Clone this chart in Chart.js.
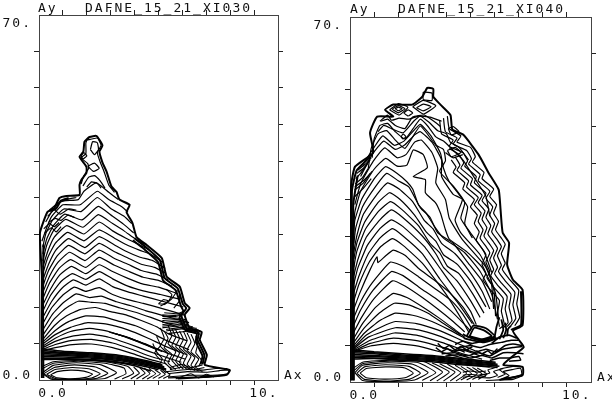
<!DOCTYPE html>
<html>
<head>
<meta charset="utf-8">
<style>
body{margin:0;background:#fff;}
.panel{position:absolute;top:0;width:306px;height:403px;}
</style>
<script src="https://cdn.jsdelivr.net/npm/chart.js@4/dist/chart.umd.min.js"></script>
</head>
<body>
<div class="panel" style="left:0"><canvas id="left-chart" width="306" height="403"></canvas></div>
<div class="panel" style="left:306px"><canvas id="right-chart" width="306" height="403"></canvas></div>
<script>
'use strict';
// axis ranges and labels, both panels share them
const xRange = [-1.25, 11.25];
const yRange = [0, 70];
const xStep = 1.25;
const yStep = 7;
const titles = ['DAFNE_15_21_XI030', 'DAFNE_15_21_XI040'];
const xAxisName = 'Ax';
const yAxisName = 'Ay';

// every contour is a flat x,y,x,y list read off the picture
// left panel, XI030
const leftArches = [
[-1.05,5.6,-.4,6.2,.5,6.8,1.5,6.9,2.6,6.2,3.6,5.1,4.6,3.9,5.4,3.1],
[-1.05,5.9,-.4,6.8,.5,7.6,1.5,7.8,2.6,7.1,3.6,5.9,4.6,4.5,5.6,3.5],
[-1.05,6.2,-.4,7.4,.5,8.4,1.4,8.8,2.4,8.2,3.4,7,4.5,5.5,5.6,4.1,6.2,3.4],
[-1.05,6.5,-.4,8,.4,9.3,1.4,9.9,2.4,9.3,3.3,8.2,4.4,6.8,5.5,5.1,6.4,4],
[-1.05,6.9,-.4,8.7,.4,10.1,1.3,11,2.3,10.7,3.4,9.6,4.4,8.1,5.4,6.4,6.5,4.8],
[-1.05,7.3,-.4,9.5,.3,11.2,1.2,12.3,2.1,12.1,3,11.2,3.8,10.4,4.6,9.1,5.4,7.6,6.6,5.8],
[-1.05,7.8,-.45,10.4,.2,12.3,.9,13.5,1.7,13.9,2.5,13.1,3.3,12.5,4.1,11.4,4.9,10.2,5.5,8.9,6.5,7.5],
[-1.05,8.6,-.5,11.5,.1,13.6,.8,15.1,1.5,14.9,2.2,14.7,3,13.8,3.8,13,4.6,12,5.5,10.8,6.5,9.6],
[-1.05,9.6,-.55,12.6,.05,14.9,.7,16.5,1.4,15.8,2,16.1,2.8,15,3.6,14.2,4.4,13.2,5.4,12.2,6.6,11],
[-1.05,10.8,-.6,13.8,0,16.3,.6,17.8,1.2,17,1.9,17.7,2.6,16.4,3.4,15.4,4.2,14.7,5.2,13.7,6.4,12.4],
[-1.05,12,-.6,15,-.05,17.6,.55,19.2,1.2,18.2,1.9,19.4,2.6,17.9,3.4,16.9,4.2,16.1,5.2,15.1,6.3,14],
[-1.05,13.2,-.65,16.2,-.1,18.9,.5,20.4,1.2,19.3,1.9,20.8,2.6,19.4,3.4,18,4.2,17.1,5.1,16.4,6.1,15.5],
[-1.05,14.4,-.65,17.4,-.15,20.2,.45,21.8,1.2,20.4,1.9,22.1,2.6,20.8,3.4,19.5,4.2,18.4,5,17.8,5.9,16.7],
[-1.05,15.6,-.7,18.6,-.2,21.4,.4,23.1,1.2,21.6,1.9,23.5,2.7,22,3.4,20.9,4.2,19.7,5,19.1,5.7,18],
[-1.05,16.8,-.7,19.9,-.25,22.6,.35,24.5,1.15,22.9,1.9,24.9,2.7,23.3,3.4,22.2,4.1,21,4.9,20.3,5.5,19.2],
[-1.05,18,-.75,21,-.3,23.8,.3,25.8,1.15,24.2,1.9,26.2,2.7,24.6,3.4,23.4,4.1,22.2,4.8,21.6,5.4,20.4],
[-1.05,19.2,-.75,22.2,-.35,25,.3,27.1,1.15,25.4,1.9,27.5,2.7,25.9,3.3,24.7,4,23.6,4.7,22.9,5.35,21.4],
[-1.05,20.4,-.8,23.4,-.4,26.2,.25,28.3,1.1,26.7,1.9,28.8,2.7,27.2,3.3,26,4,24.9,4.6,24.1,5.2,22.6],
[-1.05,21.6,-.8,24.6,-.45,27.4,.2,29.6,1.1,28,1.9,30.3,2.6,28.6,3.3,27.2,3.9,26.1,4.5,25],
[-1.05,22.8,-.85,25.8,-.5,28.6,.15,30.8,1.05,29.3,1.85,31.7,2.6,30,3.2,28.6,3.8,27,4.35,25.9],
[-1.05,24.2,-.85,27,-.5,29.6,.1,31.8,1,30.7,1.85,33.3,2.6,31.4,3.2,29.8,3.7,28.2],
[-1.05,25.5,-.9,28,-.55,30.6,.05,32.8,.95,32.3,1.8,35,2.5,32.9,3.2,31.4,3.6,30],
[-1.1,26.6,-.85,29.2,-.6,31.3,0,33.6,.9,33.6,1.8,36.2,2.4,34.6,3.1,33.2,3.4,32.2],
[-.9,30.3,-.6,32.2,-.1,34.3,.8,34.6,1.1,36.2,1.75,37.8,2.4,36,2.9,34.6],
[-.75,30.2,-.4,31,-.1,30.6,.25,31.6,.6,31.2],
[-.8,31.4,-.45,32.6,-.15,31.8,.3,32.8,.7,32.6],
[-.7,32.6,-.3,33.8,.2,34.6,.7,35],
[-1,29,-.7,30,-.45,29.4,-.2,30.2],
[-.95,28.2,-.6,29.2,-.35,28.4,-.1,29.4]
];
const leftCrest = [
[1.25,46,1.8,46.4,2,45,1.8,43.6,1.95,41.8,2.15,40,2.4,37.4,2.7,36],
[.95,37.6,1.1,39.2,1.35,40.6,1.3,41.5,.95,42.6,1.2,43.4,1.2,45.4,1.25,46],
[1.44,44.2,1.55,45.7,1.8,45.5,1.86,44.2,1.65,43.2,1.44,44.2],
[.95,43,1.1,43.6,1.25,43,1.05,42.4,.95,43],
[1.05,37.2,1.35,38.9,1.65,39.2,1.95,38.2,2.2,36.8],
[1.25,37,1.5,38,1.8,37.7,2,36.8],
[1.3,41,1.65,41.6,1.9,40.6,1.6,40,1.3,41]
];
const leftBand = [
[-1.1,6,0,5.5,1.5,5.2,3,4.7,4.5,3.6,5.2,2.9],
[-1.1,5.7,0,5.3,1.5,5,3,4.5,4.5,3.4,5.2,2.7],
[-1.1,5.4,0,5.1,1.5,4.8,3,4.3,4.5,3.3,5.3,2.5],
[-1.1,5.1,0,4.9,1.5,4.6,3,4.1,4.5,3.1,5.3,2.3],
[-1.1,4.8,0,4.7,1.5,4.4,3,3.9,4.5,2.9,5.4,2.1],
[-1.1,4.5,0,4.4,1.5,4.2,3,3.7,4.5,2.7,5.4,1.9],
[-1.1,4.2,0,4.1,1.5,3.9,3,3.4,4.3,2.6,5,2],
[-1.1,3.9,-.3,4,1,3.9,2.5,3.5,3.8,2.7,4.6,1.7]
];
const leftBase = [
[-.65,1,-.3,1.6,.4,1.9,1.1,1.7,1.55,1.1,1.2,.5,.4,.25,-.3,.4,-.65,1],
[-.85,1.1,-.4,2,.5,2.4,1.4,2.1,1.95,1.2,1.5,.4,.5,.12,-.4,.3,-.85,1.1],
[-1,1.2,-.45,2.4,.6,2.9,1.7,2.5,2.35,1.3,1.8,.35,.5,.08,-.5,.2,-1,1.2],
[-1.1,1.3,-.5,2.8,.7,3.3,2,2.9,2.8,1.4,2.2,.3,.6,.05,-.6,.15,-1.1,1.3],
[-1.1,2.1,-.5,3.2,.8,3.6,2.2,3.2,3.2,2.3,3.3,1.2,2.7,.2],
[-1.1,2.6,-.5,3.5,.9,3.8,2.4,3.4,3.4,2.6,3.7,1.3,3.1,.2],
[3.55,.2,4,1.3,3.7,2.5],[3.85,.2,4.3,1.3,4,2.4],[4.15,.2,4.55,1.2,4.25,2.3],[4.4,.2,4.85,1.2,4.5,2.2],
[4.7,.3,5.1,1.2,4.8,2],[5,.3,5.35,1.1,5.1,1.9],[5.25,.3,5.6,1,5.35,1.8],
[5.5,1.2,6.5,1.6,7.5,1.5,8.2,1.8,8.7,1.9,8.6,1.2,7.8,.9,6.8,.9,5.5,.6],
[5.4,1.6,6.5,2,7.3,1.9,8,2.2,8.6,2.2],
[5.5,.4,6.4,.5,7.4,.5,8.2,.8],
[5.9,.2,6.7,1.2,7.1,.4,7.5,1.1,7.9,.6],
[5.6,2.4,6.2,3,6.7,2.4,7.3,2.9],
[5.6,2,6.3,2.5,6.8,2,7.4,2.4]
];
const leftScribble = [
[5.1,10,5.3,8,5.1,6.5,5.5,5,5.3,3.5,5.7,2],
[5.3,9.4,5.5,8,5.3,6.2,5.7,4.9,5.5,3.3,5.9,2],
[5.5,10.5,5.7,8.5,5.5,7,5.9,5.4,5.7,3.8,6.1,2.2],
[5.7,9.8,5.9,8.2,5.7,6.6,6.1,5.2,5.9,3.6,6.3,2.1],
[5.9,9.6,6.1,8,5.9,6.4,6.3,5,6.1,3.4,6.5,2],
[6.1,9.4,6.3,7.8,6.1,6.2,6.5,4.8,6.3,3.2,6.7,1.9],
[6.3,9.4,6.5,7.6,6.3,6,6.7,4.6,6.5,3,6.9,1.8],
[6.5,9,6.7,7.3,6.5,5.7,6.9,4.3,6.7,2.8,7.1,1.7],
[6.7,8.8,6.9,7,6.7,5.4,7.1,4,6.9,2.6,7.3,1.6],
[6.95,8.4,7.05,6.8,6.95,5.2,7.25,3.8,7.1,2.6],
[4.7,7,4.9,5.4,5.2,4,5,2.6,5.4,1.4],
[4.9,8.4,5.1,6.6,4.8,5.2,5.1,3.8],
[5.3,12.9,6,12.7,6.4,13.3],[5.2,12.5,5.9,12.4,6.3,12.8],[5.2,12.2,5.9,12.2,6.3,12.6],
[5.2,11.8,5.9,11.9,6.4,11.6],[5.2,11.4,6,11.6,6.5,11.2],[5.2,11,6,11.3,6.5,10.9],[5.2,10.6,6,11,6.5,10.6],
[5.2,10.3,6.1,10.7,6.8,10.2],[5.2,10,6.1,10.4,7,9.9],[5.4,9.7,6.2,10.1,7.1,9.6],[5.4,9.4,6.2,9.8,7.1,9.4],[5.5,8.9,6.4,9.3,7.2,8.8],
[5.1,14.2,5.5,15,5.7,16.4,5.4,17.4],[5.3,14.4,5.7,15.6,6,17.2],
[5.8,13.8,6.1,15.2,6.1,16.6],[5,14.6,5.25,15.4,5.5,15.2,5.3,14.6,5,14.6],
[2.4,9.2,3.2,8.4,4,7.2,4.8,6],[2.6,9,3.4,8.2,4.2,7,5,5.8],[2.8,8.8,3.6,7.9,4.4,6.7,5.2,5.4]
];
const leftEdge = [
[-1.1,.4,-1.12,10,-1.1,20,-1.2,28.2,-.81,32.2,-.45,33,-.18,34.9,.18,35.3,.87,35.5,.87,37.4,.97,38.4,1.23,39.7,1.23,40.9,.87,42.8,1.07,43.8,1.13,45.7,1.39,46.6,1.76,46.8,2.07,45,1.91,43.8,2.07,41.7,2.28,40,2.54,37.1,2.8,36.1,2.96,34.6,3.49,33.6,3.33,32.2,3.64,30.1,3.85,27.4,4.38,25.9,5.17,23.4,5.43,19.8,6.11,17.9,6.37,14.8,6.63,13.8,6.37,12.5,6.63,10,7.26,9.2,7.16,7.7,7.53,4.8,7.42,2.9,8.73,1.9,8.57,1,7.53,.6,6,.3],
[3.74,27.2,4.3,25.6,5.07,23,5.33,19.5,6,17.6,6.27,14.6,6.45,13.8,6.2,12.3,6.5,9.8,7.1,9.1,7.05,7.6,7.4,4.8,7.3,3],
[3.66,26.8,4.22,25.2,4.98,22.6,5.24,19.1,5.9,17.2,6.17,14.2,6.3,13.2,6.1,12,6.4,9.6,7,8.9,6.95,7.4,7.3,4.6,7.2,3],
[-1.02,.4,-1.04,14,-1.02,26],
[-.7,32.4,-.35,32.9,-.1,34.4,.3,34.9]
];

// right panel, XI040
const rightArches = [
[-1.05,5.9,-.2,6.9,1,7.4,2.4,6.8,3.6,5.6,4.6,4.6,5.6,3.9],
[-1.05,6,-.2,7.4,1,8.4,2.4,7.8,3.6,6.6,4.6,5.4,5.6,4.4],
[-1.05,6.2,-.2,8,1.05,9.4,2.3,8.9,3.5,7.6,4.5,6.3,5.5,5],
[-1.05,6.4,-.3,8.6,1.1,10.4,2.3,10,3.4,8.8,4.4,7.3,5.3,5.9],
[-1.05,6.6,-.4,9,.4,10.6,1.1,11.6,2.2,11.2,3.3,10,4.3,8.4,5.1,7],
[-1.05,7,-.5,9.4,.3,11.8,1.1,13.2,2,12.8,3,11.6,3.9,10,4.8,8.2],
[-1.05,7.6,-.55,10.2,.2,13,1.05,15.1,1.8,14.8,2.8,13.2,3.6,11.2,4.5,9],
[-1.05,8.4,-.6,11.2,.1,14.4,1,17,1.7,16.2,2.6,14.2,3.4,12.2,4.2,10,4.7,8.6],
[-1.05,9.6,-.65,12.4,0,16,.95,19.4,1.6,18.4,2.5,16.2,3.3,14,4.1,11.6,4.7,9.6],
[-1.05,11,-.7,13.8,-.05,17.6,.9,21.2,1.5,20.4,2.4,18,3.2,16,4,13.6,4.7,11,5,9.8],
[-1.05,12.4,-.7,15.4,-.1,19,.85,23,1.5,22.2,2.3,20.2,3.2,17.8,4,15.6,4.6,13,5.1,10],
[-1.05,14,-.75,17,-.2,21.6,.15,24,.2,22.9,.6,24.2,1,25.3,1.6,24.3,2.3,21.8,3.1,19.6,3.9,17.2,4.6,14.4,5.2,11],
[-1.05,15.6,-.8,18.6,-.25,23,.3,25.8,.95,27.5,1.5,26.2,2.5,22.8,3.7,17,4.56,11.9,4.9,9.6],
[-1.05,17.2,-.8,20.2,-.3,24.6,.3,27.6,.95,29.4,1.5,28,2.5,24.6,3.4,19.8,4.3,15.4,5.1,11.2],
[-1.05,18.8,-.85,21.8,-.35,26.2,.3,29.4,.9,31.1,1.5,29.8,2.6,26,3.5,21.4,4.2,17.8,5,13.6,5.3,11],
[-1.05,20.4,-.85,23.4,-.4,27.8,.3,31.1,.9,33,1.5,31.5,2.5,28,3.2,24.6,3.6,22,4.3,19.4,5,15.6,5.5,12.4],
[-1.05,22,-.9,25,-.45,29.3,.25,32.8,.85,34.6,1.4,33.2,2.3,30,2.9,26.6,3.4,24.8,3.8,22.2,4.4,20.8,5.1,17,5.7,13.2],
[-1.05,23.6,-.9,26.6,-.5,30.6,.2,34.4,.8,36.3,1.35,35,2.1,32,2.7,28.8,3.2,27,3.6,24.4,4.3,22.6,5,19.4,5.8,14.4],
[-1.05,25,-.9,28,-.55,32.2,.15,36,.7,38.2,1.3,37,2,34.6,2.6,31,3.05,29.4,3.5,26.6,4.2,24.6,4.9,21.4,5.6,17.4,6,14],
[-1.05,26.6,-.95,29.6,-.6,33.6,.1,37.6,.65,40,1.25,38.6,1.8,37.4,2.4,33.4,2.9,31.6,3.3,28.6,4.1,26.6,4.8,23.2,5.6,19.4,6.1,15.4],
[-1.05,28.2,-1,31,-.65,35,.05,39.2,.6,41.3,1.2,40,1.7,38.4,2,37,2.3,34,2.7,32.4,3.1,30,3.6,27.6,4.7,24.8,5.5,21.2,6.1,16.8,6.4,12],
[-1.05,30,-1,32.6,-.7,36.6,0,40.8,.6,42.9,1.2,41.4,1.7,41.6,2.03,44.5,2.55,43.6,2.76,41.1,2.03,39.4,2.66,38.8,2.66,36.3,3.18,34.4,3.44,32.4,3.7,29.2,3.9,27.4,4.8,25,5.6,22,6.2,17.8,6.3,12.6],
[-1,34,-.7,38,-.05,42.3,.55,44.9,1.2,43,1.65,43.6,2.1,46,2.45,46.4,3,44,3.3,41,3.2,38.2,3.7,35,3.9,31.4,4.58,27.3,5.78,22.1,6.3,17,6.46,11.9],
[-.7,39.4,-.1,43.6,.5,46.2,1.1,44.6,1.6,45.5,2.1,47.4,2.4,48,3,46,3.5,42.6,3.5,39.4,4.1,36,4.58,35,4.2,31.1,4.5,28.6,5.5,24.4,6.05,20,6.2,14],
[-.3,41,-.15,44.8,.2,47.6,.65,48.2,1.1,46.4,1.6,44.8,2.1,47.6,2.4,49.1,2.8,47.4,3.2,45.4,3.6,44.6,3.7,42.4,3.4,40.4,4.1,37.6,4.7,34.4,4.5,31.4,5,28.6,5.7,25,6.1,21],
[-.1,43,0,46.6,.3,49.2,.7,49.6,1.1,48,1.6,46.6,2.1,49,2.4,50.4,2.8,49,3.2,47,3.6,46.2,4,44.8,4.6,42.6,5.3,38.6,5.8,35.6,6,31.8],
[-.6,41.6,0,45,.45,47.2,1.05,45.4,1.55,46.2,2.1,48.4,2.4,49.4,2.95,47.2,3.45,43.8,3.6,41,3.9,38.4,4.4,36,4.85,33.6,4.7,30.4,5.1,27.6],
[.2,48,.5,49.2,.9,48.6,1.5,47.8,2.05,50,2.4,51,2.85,49.8,3.3,48.2,3.75,47.6,3.95,46,4.4,45,4.9,42.6],
[.35,50,.7,50.4,1.1,49.2,1.6,48.6,2,50.8,2.6,51.2,3.1,50,3.45,49],
[-.98,38,-.6,39.2,-.3,41],[-1.02,36.8,-.55,38.2,-.2,40],[-.95,39,-.7,40,-.35,41.8],
[-1.05,35.4,-.6,37,-.15,39],[-.9,40,-.55,41,-.2,42.6],[-1,37.4,-.5,38.8,-.1,40.4],[-.85,40.6,-.45,41.8,-.15,43]
];
const rightOuter = [
[3.8,51,3.9,48.6,4.5,47.2,4.3,46,5,45,5.25,43.2,5.1,42.2,5.7,40.2,5.6,39,6.2,37,6,35.6,6.35,34,6.2,32.4,6.45,30.8,6.3,29.2,6.6,27.6,6.8,26.4,6.6,24.6,6.8,22.8,6.65,21.6,7,19.8,7.5,17.6,7.4,15,7.55,12.4,7.3,10.8],
[3.6,50.6,3.7,48,4.3,46.8,4.1,45.6,4.8,44.4,5.05,42.8,4.9,41.8,5.5,39.8,5.4,38.6,6,36.6,5.8,35.2,6.15,33.6,6,32,6.25,30.4,6.1,28.8,6.4,27.2,6.6,26,6.4,24.2,6.6,22.4,6.45,21.2,6.8,19.4,7.3,17.2,7.2,14.8,7.35,12.2,7.1,10.8],
[3.4,50.2,3.5,47.6,4.1,46.4,3.9,45.2,4.6,44,4.85,42.4,4.7,41.4,5.3,39.4,5.2,38.2,5.8,36.2,5.6,34.8,5.95,33.2,5.8,31.6,6.05,30,5.9,28.4,6.2,26.8,6.4,25.6,6.2,23.8,6.4,22,6.25,20.8,6.6,19,7.1,16.8,7,14.4,7.15,11.8,6.9,10.6],
[3.9,44.8,4.4,43.6,4.65,42,4.5,41,5.1,39,5,37.8,5.6,35.8,5.4,34.4,5.75,32.8,5.6,31.2,5.85,29.6,5.7,28,6,26.4,6.2,25.2,6,23.4,6.2,21.6,6.05,20.4,6.4,18.6,6.9,16.4,6.8,14,6.95,11.4,6.7,10.4],
[4.2,43.2,4.45,41.6,4.3,40.6,4.9,38.6,4.8,37.4,5.4,35.4,5.2,34,5.55,32.4,5.4,30.8,5.65,29.2,5.5,27.6,5.8,26,6,24.8,5.8,23,6,21.2,5.85,20,6.2,18.2,6.7,16,6.6,13.6,6.75,11,6.5,10.2],
[4,42.6,4.25,41.2,4.1,40.2,4.7,38.2,4.6,37,5.2,35,5,33.6,5.35,32,5.2,30.4,5.45,28.8,5.3,27.2,5.6,25.6,5.8,24.4,5.6,22.6,5.8,20.8,5.65,19.6,6,17.8,6.5,15.6,6.4,13.2,6.5,10.6]
];
const rightCrest = [
[1.26,51.6,.95,52.3,1.26,53,1.6,52.4,1.26,51.6],
[1.26,52,1.1,52.4,1.26,52.7,1.45,52.4,1.26,52],
[.8,52.2,1.26,53.4,1.75,52.7,1.3,51.2,.8,52.2],
[1.77,51,1.55,51.6,1.77,52.2,2,51.6,1.77,51],
[2.2,52.6,2.55,53.3,2.95,52.8,2.55,52,2.2,52.6],
[2,52.8,2.55,54,3.2,53,2.55,51.4,2,52.8],
[1.4,47,1.5,47.6,1.65,47,1.5,46.6,1.4,47],
[3.85,48.6,4.1,49,4.4,48,4,47.4,3.85,48.6],
[2.55,55.6,3,55.4,3,54,2.55,54.2,2.55,55.6],
[.3,50,.7,51.2,.9,50.2,1.3,50.6,1.8,50.4,2.3,51,2.9,50.8,3.5,50],
[3.8,44.4,4.2,45,4.5,44,4,43.2,3.8,44.4],
[3.7,44,4.1,43,4.6,43.6]
];
const rightBand = [
[-1.1,6.2,0,5.8,1.5,5.4,3,5.1,4.5,4.5,6.3,3.8],
[-1.1,5.9,0,5.6,1.5,5.2,3,4.9,4.5,4.3,6.3,3.6],
[-1.1,5.6,0,5.4,1.5,5,3,4.7,4.5,4.1,6.4,3.4],
[-1.1,5.3,0,5.1,1.5,4.8,3,4.5,4.5,3.9,6.4,3.2],
[-1.1,5,0,4.9,1.5,4.6,3,4.3,4.5,3.7,6.5,3],
[-1.1,4.7,0,4.6,1.5,4.4,3,4.1,4.5,3.5,6.4,2.8],
[-1.1,4.4,0,4.5,1.5,4.2,3,3.9,4.5,3.3,6,2.9],
[3.5,5.4,4.2,5.6,4.8,5,5.4,5.6,6,5,6.6,6.2,7.2,6.6,7.7,6.8],
[3.7,5,4.4,5.2,5,4.6,5.6,5.1,6.1,4.6,6.7,5.6,7.3,5.6,7.75,5.4],
[4,5.9,4.7,6.2,5.2,5.7,5.8,6.3,6.3,5.8,6.8,7,7.2,7.3,7.7,7],
[4.4,6.6,5,7,5.5,6.6,6,7.2,6.6,7.6,7.1,8,7.5,8],
[4.2,7.2,4.6,7.8,5.1,7.4,5.5,7.7,6,8,6.3,8.6],
[6,4.1,6.5,4.6,7,4.6,7.5,4.9,7.6,4.2,7,4],
[3.3,7.4,3.6,6.4,3.9,7,4.2,6.2,4.5,6.8,4.8,6.2,5.1,6.8],
[3.2,6.6,3.5,5.8,3.8,6.4,4.1,5.7,4.4,6.2,4.7,5.7],
[5.3,6,5.6,5.4,5.9,6,6.1,5.4,6.4,6.4]
];
const rightBase = [
[-.73,1.7,-.4,2.6,.6,2.9,1.6,2.7,2.03,1.7,1.6,.8,.6,.55,-.4,.8,-.73,1.7],
[-.9,1.7,-.5,2.9,.6,3.3,1.8,3,2.4,1.7,1.8,.5,.6,.2,-.5,.5,-.9,1.7],
[-1,1.8,-.6,3.2,.7,3.7,2,3.4,2.8,1.8,2.1,.4,.6,.08,-.6,.3,-1,1.8],
[-1.1,2,-.6,3.5,.8,4,2.3,3.7,3.2,1.8,2.5,.3],
[-1.1,2.6,-.6,3.8,.9,4.2,2.6,3.9,3.55,1.9,2.9,.25],
[3.25,.2,3.9,1.9,3,3.7],[3.6,.2,4.2,1.9,3.4,3.5],[3.95,.2,4.5,1.8,3.8,3.4],[4.25,.2,4.8,1.7,4.2,3.2],
[4.5,.4,5.05,1.6,4.5,3],[4.8,.4,5.35,1.6,4.8,2.9],[5.1,.5,5.6,1.5,5.1,2.8],[5.4,.5,5.85,1.5,5.35,2.7],
[5.4,.9,6,.8,6.4,1.3,6.2,2,6.7,2.6],[5.5,1.3,6,1.7,5.9,2.3,6.4,2.9],
[6.6,.6,7,1.2,6.7,2,7.2,2.4,7.6,2.6,7.65,1.4,7.1,.9,6.6,.6],
[6.4,.9,6.8,1.5,6.5,2.4,7.2,3,7.7,2.9],
[5.8,.3,6.5,.4,7.2,.5,7.7,1.2],
[4.6,1.9,5,2.1,5.4,1.9,5.8,2.1],[4.6,1.3,5,1.5,5.4,1.3,5.8,1.5],[4.6,.9,5,1.1,5.4,.9,5.8,1.1]
];
const rightBlob = [
[4.95,8.8,5.2,10.4,5.7,9.9,6.1,8.8,5.6,8.2,4.95,8.8],
[4.8,8.8,5.15,10.8,5.8,10.3,6.25,8.8,5.6,7.9,4.8,8.8],
[4.65,8.4,5.1,8,5.7,7.6,6.4,8.4],
[4.6,9.2,4.9,8.6,5.6,8,6.3,8.6],
[6.5,8.2,6.7,10,6.6,12],[6.7,8.4,6.85,10,6.8,11.4],[6.9,8.8,6.95,10.2,7.1,10.8],
[6.25,8.6,6.35,10.6,6.5,12.4],[6.1,7.4,6.5,8.6,7,9,7.4,8.4]
];
const rightEdge = [
[-1.2,.3,-1.2,18,-1.2,37.4,-.99,41.3,-.05,44,-.21,47.8,.16,50.9,.99,50.9,.57,52.2,.99,53.2,1.98,53.2,2.5,54.7,2.76,56.4,3.07,56.2,3.07,54.7,3.44,53.2,3.96,51.2,4.06,48.4,4.63,47.4,5.42,43.6,5.94,40.1,6.46,36.9,6.56,33,6.67,28.6,7,26.7,6.9,22.5,7.2,19.6,7.7,17.7,7.7,10.9,7.2,9.8,7.5,8.1,7.76,6.7,7.2,5,6.7,3.3,7.7,2.9,7.7,1.3,6.5,.4],
[7.62,17.4,7.62,11,7.1,10],
[-1.12,.3,-1.12,20,-1.15,36.6,-.9,40.6,-.2,43.2],
[-1.05,.3,-1.05,16,-1.08,34,-.85,39.6]
];

// turn a flat x,y list into the points the scatter chart wants
function toPoints(list) {
  let points = [];
  for (let i = 0; i < list.length; i += 2) {
    points.push({x: list[i], y: list[i + 1]});
  }
  return points;
}

function makeSets(groups) {
  let sets = [];
  groups.forEach(function (group) {
    group.lines.forEach(function (line) {
      sets.push({
        data: toPoints(line),
        showLine: true,
        pointRadius: 0,
        tension: 0.15,
        borderColor: '#000',
        borderWidth: group.width
      });
    });
  });
  return sets;
}

function hideEndTicks(ctx) {
  let count = ctx.scale.ticks.length;
  return ctx.index === 0 || ctx.index === count - 1 ? 'rgba(0,0,0,0)' : '#222';
}

function axis(position, range, step, callback, fitSize) {
  return {
    type: 'linear',
    position: position,
    min: range[0],
    max: range[1],
    border: {display: true, color: '#444', width: 1},
    grid: {drawOnChartArea: false, drawTicks: true, tickLength: 5, tickColor: hideEndTicks},
    ticks: {
      display: callback !== null,
      stepSize: step,
      autoSkip: false,
      maxRotation: 0,
      padding: 2,
      labelOffset: position === 'left' ? 2 : 0,
      color: '#111',
      font: {family: '"DejaVu Sans Mono"', size: 13, lineHeight: 1},
      callback: callback || function () { return ''; }
    },
    afterFit: function (scale) {
      if (scale.isHorizontal()) {
        scale.height = fitSize;
      } else {
        scale.width = fitSize;
      }
    }
  };
}

// spaces and blank lines push the plotter's off-tick labels aside
function xTickLabel(value) {
  if (value === 0) return '0.0  ';
  if (value === 10) return '  10.';
  return '';
}
function yTickLabel(value) {
  if (value === 70) return ['', '70.'];
  if (value === 0) return ['0.0', ''];
  return '';
}

function drawPanel(canvasId, groups, titleText, box, place) {
  const labelsPlugin = {
    id: 'plotterText',
    beforeDraw: function (chart) {
      chart.ctx.letterSpacing = '2px';
    },
    afterDraw: function (chart) {
      const ctx = chart.ctx;
      ctx.save();
      ctx.fillStyle = '#111';
      ctx.font = '13px "DejaVu Sans Mono"';
      ctx.textAlign = 'left';
      ctx.textBaseline = 'alphabetic';
      ctx.letterSpacing = '2px';
      ctx.fillText(yAxisName, place.ay, place.base);
      ctx.fillText(titleText, place.title, place.base);
      ctx.fillText(xAxisName, place.ax, place.axBase);
      ctx.restore();
    }
  };
  return new Chart(document.getElementById(canvasId), {
    type: 'scatter',
    data: {datasets: makeSets(groups)},
    options: {
      responsive: false,
      animation: false,
      layout: {padding: 0},
      plugins: {legend: {display: false}, tooltip: {enabled: false}, title: {display: false}},
      scales: {
        x: axis('bottom', xRange, xStep, xTickLabel, box.bottom),
        x2: axis('top', xRange, xStep, null, box.top),
        y: axis('left', yRange, yStep, yTickLabel, box.left),
        y2: axis('right', yRange, yStep, null, box.right)
      }
    },
    plugins: [labelsPlugin]
  });
}

drawPanel('left-chart', [
  {lines: leftArches, width: 1.2},
  {lines: leftCrest, width: 1.2},
  {lines: leftBand, width: 1.6},
  {lines: leftBase, width: 1.1},
  {lines: leftScribble, width: 1.1},
  {lines: leftEdge, width: 2}
], titles[0], {left: 39, right: 28, top: 15, bottom: 23},
  {ay: 38, title: 85, base: 12, ax: 284, axBase: 379});

drawPanel('right-chart', [
  {lines: rightArches, width: 1.2},
  {lines: rightOuter, width: 1.2},
  {lines: rightCrest, width: 1.2},
  {lines: rightBand, width: 1.5},
  {lines: rightBase, width: 1.1},
  {lines: rightBlob, width: 1.8},
  {lines: rightEdge, width: 2}
], titles[1], {left: 44, right: 21, top: 17, bottom: 21},
  {ay: 44, title: 92, base: 13, ax: 291, axBase: 381});
</script>
</body>
</html>
